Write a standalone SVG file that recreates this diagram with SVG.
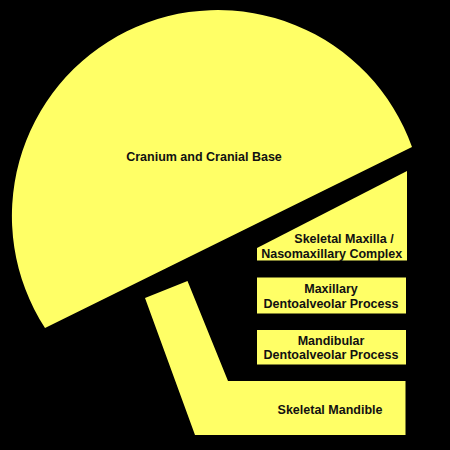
<svg xmlns="http://www.w3.org/2000/svg" width="450" height="450" viewBox="0 0 450 450">
  <style>
    .part { fill: #ffff66; stroke: none; }
    .lbl { font-family: "Liberation Sans", Arial, sans-serif; font-weight: bold; font-size: 12.5px; fill: #111111; text-anchor: middle; }
  </style>
  <rect x="0" y="0" width="450" height="450" fill="#000000"/>
  <g id="cranium">
    <path class="part" d="M 412,147 A 206 206 0 1 0 45,328 Z"/>
    <text class="lbl" x="204" y="161">Cranium and Cranial Base</text>
  </g>
  <g id="skeletal-maxilla">
    <path class="part" d="M 407,171 L 407,260.5 L 257,260.5 L 257,248 Z"/>
    <text class="lbl" x="344" y="243.3">Skeletal Maxilla /</text>
    <text class="lbl" x="331.7" y="257.7">Nasomaxillary Complex</text>
  </g>
  <g id="maxillary-dentoalveolar">
    <rect class="part" x="257" y="277.5" width="149" height="36"/>
    <text class="lbl" x="331" y="293.3">Maxillary</text>
    <text class="lbl" x="331" y="307.7">Dentoalveolar Process</text>
  </g>
  <g id="mandibular-dentoalveolar">
    <rect class="part" x="257" y="330" width="149" height="34.5"/>
    <text class="lbl" x="331" y="345">Mandibular</text>
    <text class="lbl" x="331" y="359.3">Dentoalveolar Process</text>
  </g>
  <g id="skeletal-mandible">
    <path class="part" d="M 145,298 L 187.5,281 L 228,381 L 405.5,381 L 405.5,435 L 195,435 Z"/>
    <text class="lbl" x="330" y="414.3">Skeletal Mandible</text>
  </g>
  <g id="connectors"></g>
</svg>
